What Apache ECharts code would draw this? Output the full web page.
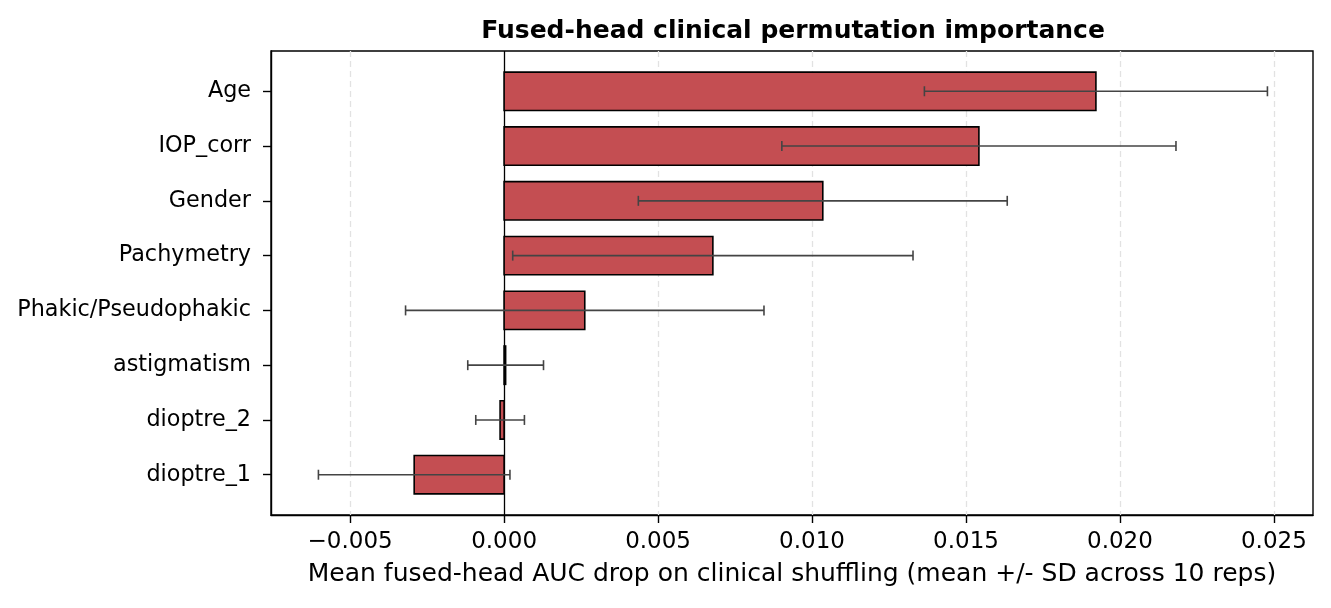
<!DOCTYPE html>
<html>
<head>
<meta charset="utf-8">
<script src="https://cdn.jsdelivr.net/npm/echarts@6/dist/echarts.min.js"></script>
<style>
  html, body { margin: 0; padding: 0; background: #fff; }
  #chart { width: 1331px; height: 608px; }
</style>
</head>
<body>
<div id="chart"></div>
<script>
// feature order is top to bottom
const features = ['Age', 'IOP_corr', 'Gender', 'Pachymetry', 'Phakic/Pseudophakic', 'astigmatism', 'dioptre_2', 'dioptre_1'];
const means = [0.01922, 0.01542, 0.01035, 0.00678, 0.00262, 0.00005, -0.00013, -0.00292];
const sds = [0.00557, 0.00640, 0.00599, 0.00650, 0.00582, 0.00123, 0.00079, 0.00311];
const xTicks = [-0.005, 0, 0.005, 0.01, 0.015, 0.02, 0.025];

const FONT = 'DejaVu Sans';
const barData = means.map((m, i) => [m, i]);
const errData = means.map((m, i) => [m - sds[i], m + sds[i], i]);
const yIdx = features.map((f, i) => i);

function fmtTick(v) {
  const s = Math.abs(v).toFixed(3);
  return v < 0 ? '\u2212' + s : s;
}

const chart = echarts.init(document.getElementById('chart'), null, {renderer: 'canvas'});

chart.setOption({
  animation: false,
  backgroundColor: '#fff',
  title: {
    text: 'Fused-head clinical permutation importance',
    left: 788,
    top: 14,
    textAlign: 'center',
    textStyle: {fontFamily: FONT, fontSize: 25, fontWeight: 'bold', color: '#000'}
  },
  grid: {
    left: 271, right: 18, top: 51, bottom: 93,
    show: true, borderColor: '#000', borderWidth: 1.4, backgroundColor: 'transparent'
  },
  xAxis: {
    type: 'value',
    min: -0.00757,
    max: 0.02627,
    name: 'Mean fused-head AUC drop on clinical shuffling (mean +/- SD across 10 reps)',
    nameLocation: 'middle',
    nameGap: 47,
    nameTextStyle: {fontFamily: FONT, fontSize: 25, color: '#000'},
    axisLine: {show: true, onZero: false, lineStyle: {color: '#000', width: 1.4}},
    axisTick: {show: true, length: 8, customValues: xTicks, lineStyle: {color: '#000', width: 1.4}},
    axisLabel: {
      customValues: xTicks, margin: 16, formatter: fmtTick,
      fontFamily: FONT, fontSize: 23, color: '#000'
    },
    splitLine: {show: false}
  },
  yAxis: {
    type: 'value',
    inverse: true,
    min: -0.735,
    max: 7.735,
    axisLine: {show: true, onZero: false, lineStyle: {color: '#000', width: 1.4}},
    axisTick: {show: true, length: 8, customValues: yIdx, lineStyle: {color: '#000', width: 1.4}},
    axisLabel: {
      customValues: yIdx, margin: 20,
      formatter: v => features[Math.round(v)] || '',
      fontFamily: FONT, fontSize: 22.3, color: '#000'
    },
    splitLine: {show: false}
  },
  series: [
    {
      // vertical dashed gridlines and the solid zero line
      type: 'custom',
      z: 1,
      silent: true,
      data: xTicks.map(t => [t]),
      renderItem: (params, api) => {
        const t = api.value(0);
        const cs = params.coordSys;
        const x = Math.round(api.coord([t, 0])[0]) + 0.5;
        const zero = t === 0;
        return {
          type: 'line',
          shape: {x1: x, y1: cs.y, x2: x, y2: cs.y + cs.height},
          style: zero
            ? {stroke: '#000', lineWidth: 1.3}
            : {stroke: '#e2e2e2', lineWidth: 1.3, lineDash: [6, 4]}
        };
      }
    },
    {
      type: 'custom',
      z: 3,
      data: barData,
      renderItem: (params, api) => {
        const v = api.value(0), y = api.value(1);
        const p0 = api.coord([0, y]);
        const p1 = api.coord([v, y]);
        const h = api.size([0, 0.7])[1];
        return {
          type: 'rect',
          shape: {x: Math.min(p0[0], p1[0]), y: p0[1] - h / 2, width: Math.abs(p1[0] - p0[0]), height: h},
          style: {fill: '#c44e52', stroke: '#000', lineWidth: 1.6}
        };
      }
    },
    {
      type: 'custom',
      z: 4,
      data: errData,
      renderItem: (params, api) => {
        const y = api.value(2);
        const a = api.coord([api.value(0), y]);
        const b = api.coord([api.value(1), y]);
        const c = 5;
        const st = {stroke: '#444', lineWidth: 1.6};
        return {
          type: 'group',
          children: [
            {type: 'line', shape: {x1: a[0], y1: a[1], x2: b[0], y2: b[1]}, style: st},
            {type: 'line', shape: {x1: a[0], y1: a[1] - c, x2: a[0], y2: a[1] + c}, style: st},
            {type: 'line', shape: {x1: b[0], y1: b[1] - c, x2: b[0], y2: b[1] + c}, style: st}
          ]
        };
      }
    }
  ]
});
</script>
</body>
</html>
